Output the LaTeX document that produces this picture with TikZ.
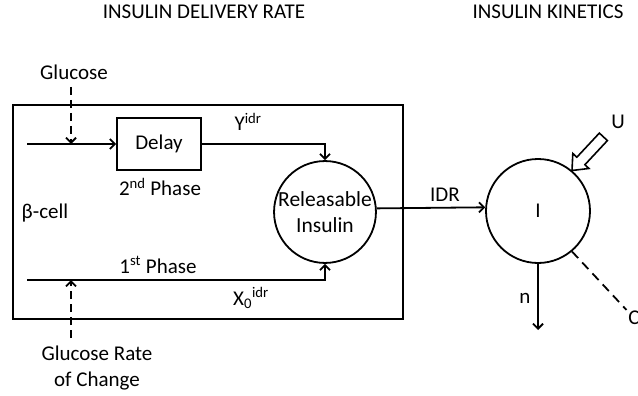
\documentclass[tikz,border=0pt]{standalone}
\usepackage{fontspec}
\setmainfont{Carlito}
\usetikzlibrary{arrows.meta,calc}
\begin{document}
\begin{tikzpicture}[x=1pt,y=-1pt,line width=1.8pt,
  every node/.style={font=\fontsize{21}{26}\selectfont,inner sep=1pt},
  tip/.style={-{Straight Barb[length=5pt,width=10pt]}},
  wire/.style={tip},
  dashwire/.style={tip,dash pattern=on 8pt off 5pt},
  dashlink/.style={dash pattern=on 9pt off 6pt}]
\useasboundingbox (0,0) rectangle (638,396);

% headings
\node (tIDR) at (204,12) {INSULIN DELIVERY RATE};
\node (tKin) at (548,12) {INSULIN KINETICS};

% beta-cell compartment
\node[draw,minimum width=390pt,minimum height=214pt,inner sep=0] (cell) at (208,212) {};
\node (beta) at (45,213) {β-cell};

\node[draw,minimum width=84pt,minimum height=52pt,inner sep=0] (delay) at (159,144) {Delay};
\node[draw,circle,minimum size=101pt,inner sep=0,align=center,
      font=\fontsize{21.5}{26}\selectfont] (rel) at (325,212) {Releasable\\Insulin};

% second phase path
\coordinate (in2) at (27,144);
\draw[wire] (in2) -- (delay.west);
\draw[wire] (delay.east) -| (rel.north);
\node (yidr) at (248,122) {Y\textsuperscript{idr}};
\node (ph2) at (160,187) {2\textsuperscript{nd} Phase};

% first phase path
\coordinate (in1) at (27,280);
\draw[wire] (in1) -| (rel.south);
\node (ph1) at (158,265) {1\textsuperscript{st} Phase};
\node (xidr) at (251,298) {X\textsubscript{0}\textsuperscript{idr}};

% glucose signals
\node (glu) at (74,72) {Glucose};
\coordinate (gluS) at (71,87);
\coordinate (gluE) at (71,144);
\draw[dashwire] (gluS) -- (gluE);

\node[align=center] (grc) at (97,368) {Glucose Rate\\of Change};
\coordinate (grS) at (71,338);
\coordinate (grE) at (71,280);
\draw[dashwire] (grS) -- (grE);

% insulin kinetics compartment
\node[draw,circle,minimum size=104pt,inner sep=0] (I) at (538,211) {I};
\draw[wire] (rel.4) -- (I.176);
\node (idr) at (445,195) {IDR};

\coordinate (nE) at (538,330);
\draw[wire] (I.south) -- (nE);
\node (n) at (525,298) {n};

\node (C) at (634,318) {C};
\draw[dashlink] (I.-50) -- (C);

\node (U) at (618,122) {U};
\begin{scope}[shift={(I.50)},rotate=47]
  \draw[line width=1.6pt,line join=miter]
    (0,0) -- (13,11) -- (13,5.5) -- (46,5.5) -- (46,-5.5) -- (13,-5.5) -- (13,-11) -- cycle;
\end{scope}
\end{tikzpicture}
\end{document}
